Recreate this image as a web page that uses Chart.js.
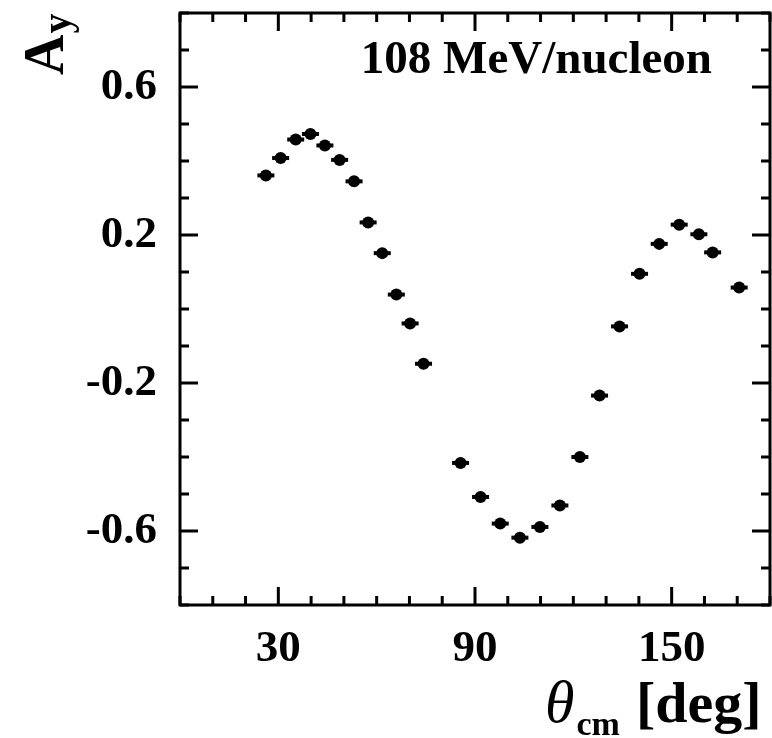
<!DOCTYPE html>
<html>
<head>
<meta charset="utf-8">
<script src="https://cdn.jsdelivr.net/npm/chart.js@4.4.1/dist/chart.umd.min.js"></script>
<style>
  html, body { margin: 0; padding: 0; background: #fff; overflow: hidden; }
  canvas { display: block; }
</style>
</head>
<body>
<canvas id="myChart" width="772" height="738"></canvas>
<script>
// measured analyzing power, 108 MeV/nucleon
const theta = [26.2, 30.7, 35.3, 39.8, 44.2, 48.7, 53.1, 57.4, 61.7, 66.0, 70.2, 74.3,
               85.6, 91.7, 97.7, 103.7, 109.8, 115.9, 122.0, 128.0, 134.1, 140.2,
               146.2, 152.3, 158.3, 162.5, 170.6];
const ay = [0.361, 0.408, 0.458, 0.473, 0.442, 0.403, 0.345, 0.234, 0.151, 0.039, -0.039, -0.148,
            -0.416, -0.508, -0.580, -0.618, -0.589, -0.531, -0.400, -0.234, -0.047, 0.095,
            0.176, 0.228, 0.202, 0.153, 0.058];

const xTicks = [30, 90, 150];
const yTicks = [-0.6, -0.2, 0.2, 0.6];
const xMinorStep = 10;
const yMinorStep = 0.1;

const points = theta.map((t, i) => ({ x: t, y: ay[i] }));
const serif = '"Liberation Serif", "Times New Roman", serif';

function noPad(s) {
    s.paddingTop = 0; s.paddingBottom = 0;
    s.paddingLeft = 0; s.paddingRight = 0;
}

// frame, inward ticks on all four sides and the text labels
const framePlugin = {
    id: 'frame',
    afterDraw(chart) {
        const ctx = chart.ctx;
        const a = chart.chartArea;
        const xs = chart.scales.x, ys = chart.scales.y;
        ctx.save();
        ctx.strokeStyle = '#000';
        ctx.lineWidth = 3;
        ctx.strokeRect(a.left, a.top, a.right - a.left, a.bottom - a.top);

        ctx.beginPath();
        for (let v = xs.min; v <= xs.max + 1e-9; v += xMinorStep) {
            const px = xs.getPixelForValue(v);
            const len = xTicks.includes(Math.round(v)) ? 18 : 9;
            ctx.moveTo(px, a.bottom); ctx.lineTo(px, a.bottom - len);
            ctx.moveTo(px, a.top); ctx.lineTo(px, a.top + len);
        }
        for (let v = ys.min; v <= ys.max + 1e-9; v += yMinorStep) {
            const r = Math.round(v * 10) / 10;
            const py = ys.getPixelForValue(r);
            const len = yTicks.includes(r) ? 18 : 9;
            ctx.moveTo(a.left, py); ctx.lineTo(a.left + len, py);
            ctx.moveTo(a.right, py); ctx.lineTo(a.right - len, py);
        }
        ctx.stroke();

        ctx.fillStyle = '#000';
        ctx.textBaseline = 'alphabetic';

        // energy label
        ctx.font = 'bold 47px ' + serif;
        ctx.textAlign = 'right';
        ctx.fillText('108 MeV/nucleon', a.right - 58, a.top + 60);

        // y title A_y (rotated)
        ctx.save();
        ctx.translate(63, 75);
        ctx.rotate(-Math.PI / 2);
        ctx.textAlign = 'left';
        ctx.font = 'bold 56px ' + serif;
        ctx.fillText('A', 0, 0);
        const aw = ctx.measureText('A').width;
        ctx.font = 'bold 40px ' + serif;
        ctx.fillText('y', aw + 1, 7);
        ctx.restore();

        // x title theta_cm [deg]
        ctx.textAlign = 'left';
        let x = 545;
        ctx.font = 'italic 60px ' + serif;
        ctx.fillText('\u03b8', x, 722);
        x += ctx.measureText('\u03b8').width + 2;
        ctx.font = 'bold 34px ' + serif;
        ctx.fillText('cm', x, 735);
        x += ctx.measureText('cm').width + 16;
        ctx.font = 'bold 58px ' + serif;
        ctx.fillText('[deg]', x, 722);
        ctx.restore();
    }
};

const ctx = document.getElementById('myChart').getContext('2d');
const myChart = new Chart(ctx, {
    type: 'scatter',
    data: {
        datasets: [{
            data: points,
            pointStyle: 'circle',
            pointRadius: 6,
            backgroundColor: '#000',
            borderColor: '#000',
            borderWidth: 0
        }, {
            data: points,
            pointStyle: 'line',
            pointRadius: 8.5,
            borderColor: '#000',
            borderWidth: 4
        }]
    },
    options: {
        responsive: false,
        animation: false,
        events: [],
        layout: { autoPadding: false, padding: { top: 13, right: 2, left: 0, bottom: 0 } },
        plugins: { legend: { display: false }, tooltip: { enabled: false } },
        scales: {
            x: {
                type: 'linear',
                min: 0,
                max: 180,
                grid: { display: false, drawTicks: false },
                border: { display: false },
                afterBuildTicks: (s) => { s.ticks = xTicks.map(v => ({ value: v })); },
                afterFit: (s) => { s.height = 133; noPad(s); },
                ticks: {
                    color: '#000',
                    padding: 17,
                    maxRotation: 0,
                    font: { family: serif, weight: 'bold', size: 45 },
                    callback: (v) => String(v)
                }
            },
            y: {
                type: 'linear',
                min: -0.8,
                max: 0.8,
                grid: { display: false, drawTicks: false },
                border: { display: false },
                afterBuildTicks: (s) => { s.ticks = yTicks.map(v => ({ value: v })); },
                afterFit: (s) => { s.width = 180; noPad(s); },
                ticks: {
                    color: '#000',
                    padding: 23,
                    font: { family: serif, weight: 'bold', size: 45 },
                    callback: (v) => v.toFixed(1)
                }
            }
        }
    },
    plugins: [framePlugin]
});
</script>
</body>
</html>
